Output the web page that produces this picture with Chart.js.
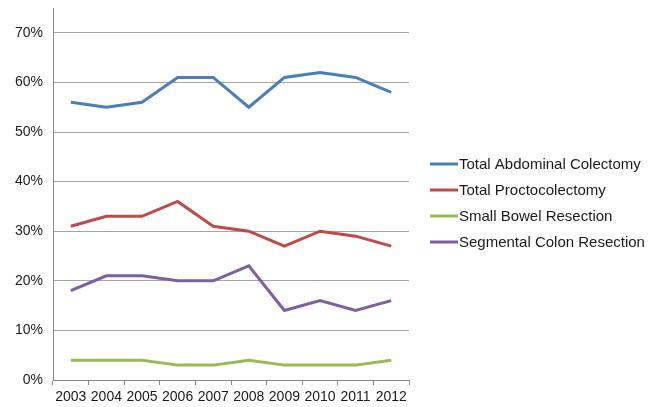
<!DOCTYPE html>
<html>
<head>
<meta charset="utf-8">
<script src="https://cdn.jsdelivr.net/npm/chart.js@4/dist/chart.umd.min.js"></script>
<style>
  html, body { margin: 0; padding: 0; background: #fff; }
  #wrap { width: 657px; height: 407px; position: relative; }
</style>
</head>
<body>
<div id="wrap"><canvas id="chart"></canvas></div>
<script>
// Share of procedures by year (%)
const years = ['2003', '2004', '2005', '2006', '2007', '2008', '2009', '2010', '2011', '2012'];

const totalAbdominal   = [56, 55, 56, 61, 61, 55, 61, 62, 61, 58];
const totalProcto      = [31, 33, 33, 36, 31, 30, 27, 30, 29, 27];
const smallBowel       = [4, 4, 4, 3, 3, 4, 3, 3, 3, 4];
const segmentalColon   = [18, 21, 21, 20, 20, 23, 14, 16, 14, 16];

const yTicks = [0, 10, 20, 30, 40, 50, 60, 70];

const FONT = { family: 'Liberation Sans, Arial, sans-serif', size: 14 };
const LEGEND_FONT_SIZE = 15;

const series = [
  { label: 'Total Abdominal Colectomy', data: totalAbdominal, color: '#4a7ebb' },
  { label: 'Total Proctocolectomy',     data: totalProcto,    color: '#be4b48' },
  { label: 'Small Bowel Resection',     data: smallBowel,     color: '#98b954' },
  { label: 'Segmental Colon Resection', data: segmentalColon, color: '#7d60a0' },
];

// legend on the right, drawn by hand so it sits where we want it
const sideLegend = {
  id: 'sideLegend',
  afterDraw(chart) {
    const ctx = chart.ctx;
    ctx.save();
    ctx.font = LEGEND_FONT_SIZE + 'px ' + FONT.family;
    ctx.textBaseline = 'middle';
    ctx.fillStyle = '#1a1a1a';
    chart.data.datasets.forEach((ds, i) => {
      const y = 164 + i * 26;
      ctx.strokeStyle = ds.borderColor;
      ctx.lineWidth = 3;
      ctx.beginPath();
      ctx.moveTo(430, y);
      ctx.lineTo(458, y);
      ctx.stroke();
      ctx.fillText(ds.label, 459, y + 1);
    });
    ctx.restore();
  }
};

new Chart(document.getElementById('chart'), {
  type: 'line',
  data: {
    labels: years,
    datasets: series.map(s => ({
      label:       s.label,
      data:        s.data,
      borderColor: s.color,
      borderWidth: 3,
      pointRadius: 0,
      tension:     0,
      fill:        false,
    })),
  },
  options: {
    responsive:          true,
    maintainAspectRatio: false,
    animation:           false,
    layout: { padding: { top: 8, right: 248, left: 0, bottom: 0 } },
    scales: {
      x: {
        offset: true,
        grid: {
          offset:          true,
          drawOnChartArea: false,
          drawTicks:       true,
          tickLength:      5,
          color:           '#888',
        },
        border: { color: '#888', width: 1 },
        ticks:  { color: '#1a1a1a', font: FONT, padding: 4, maxRotation: 0, autoSkip: false },
        afterFit: s => { s.height = 27; },
      },
      y: {
        min: 0,
        max: 75,
        afterBuildTicks: s => { s.ticks = yTicks.map(v => ({ value: v })); },
        grid: {
          color:      '#a6a6a6',
          drawTicks:  false,
        },
        border: { color: '#888', width: 1 },
        ticks: {
          color:    '#1a1a1a',
          font:     FONT,
          padding:  10,
          callback: v => v + '%',
        },
        // top tick is well below the axis end, no need for label room above it
        afterFit: s => { s.width = 53; s.paddingTop = 0; s.paddingBottom = 0; },
      },
    },
    plugins: {
      legend:  { display: false },
      tooltip: { enabled: false },
    },
  },
  plugins: [sideLegend],
});
</script>
</body>
</html>
